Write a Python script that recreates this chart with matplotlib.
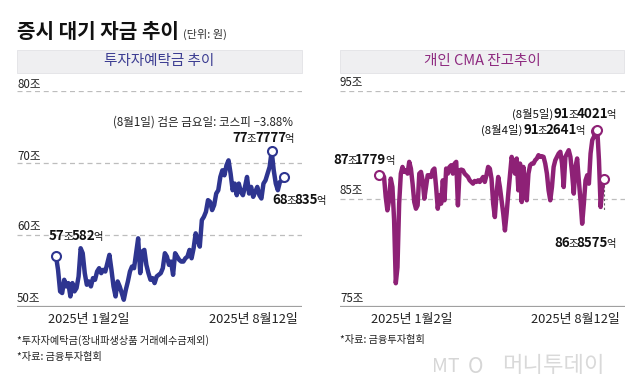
import matplotlib
matplotlib.use('Agg')
import matplotlib.pyplot as plt
from matplotlib.patches import Rectangle
from matplotlib.offsetbox import TextArea, HPacker, AnnotationBbox

plt.rcParams['font.family'] = ['Noto Sans CJK KR', 'DejaVu Sans']

# 투자자예탁금 (조원), 2025-01-02 .. 2025-08-12
deposit = [
    57.06, 55.16, 52.17, 51.94, 53.78, 52.86, 53.32, 51.47, 53.32, 52.17,
    52.63, 54.24, 58.16, 57.47, 54.70, 53.09, 53.55, 52.86, 54.01, 53.78,
    54.93, 55.39, 54.70, 55.16, 54.93, 56.08, 57.24, 55.16, 52.86, 51.47,
    53.55, 52.86, 51.94, 51.01, 52.40, 53.55, 54.93, 55.62, 55.39, 57.47,
    59.54, 54.70, 57.70, 57.93, 55.85, 54.70, 53.78, 54.01, 53.32, 54.24,
    54.47, 54.70, 55.39, 57.47, 57.00, 55.85, 56.31, 54.47, 57.47, 57.00,
    56.54, 56.31, 56.31, 56.77, 57.00, 57.93, 56.77, 58.16, 60.23, 59.31,
    58.39, 62.07, 62.53, 63.23, 64.84, 64.61, 63.46, 64.15, 65.76, 66.22,
    68.06, 68.99, 68.29, 69.68, 70.37, 68.53, 66.22, 67.14, 65.53, 67.14,
    65.99, 65.53, 66.68, 68.06, 65.76, 66.68, 65.30, 65.99, 66.68, 65.53,
    65.07, 67.14, 67.60, 68.53, 69.45, 71.66, 68.99, 67.14, 66.22, 67.37,
    67.60, 68.08,
]

# 개인 CMA 잔고 (조원)
cma = [
    87.18, 87.04, 87.35, 87.04, 85.19, 83.95, 84.88, 86.89, 86.11, 83.02,
    77.20, 78.68, 84.57, 87.35, 87.97, 87.51, 87.66, 87.35, 88.44, 87.82,
    86.42, 84.72, 84.10, 84.41, 87.35, 87.51, 86.73, 85.03, 86.11, 87.20,
    87.20, 87.04, 87.66, 87.82, 86.11, 84.10, 85.34, 84.57, 86.73, 84.88,
    87.82, 87.35, 87.97, 88.13, 87.35, 88.28, 88.44, 84.41, 87.66, 87.72,
    87.66, 87.35, 87.20, 87.04, 86.73, 86.58, 86.42, 86.67, 86.58, 86.73,
    86.58, 86.80, 87.04, 86.58, 87.20, 87.97, 87.82, 86.89, 84.57, 83.33,
    85.50, 87.04, 86.11, 84.88, 83.64, 82.09, 83.64, 85.50, 87.20, 88.90,
    88.28, 87.35, 88.75, 85.80, 88.28, 84.72, 87.97, 86.11, 84.88, 87.35,
    88.13, 88.28, 88.28, 88.59, 88.75, 89.06, 88.90, 88.96, 88.90, 88.28,
    87.35, 85.80, 84.88, 86.11, 87.97, 88.59, 88.90, 89.21, 89.37, 88.28,
    86.11, 88.90, 89.21, 89.52, 88.90, 87.35, 85.50, 87.97, 88.75, 86.73,
    84.88, 82.71, 84.57, 86.73, 87.20, 86.42, 89.21, 90.45, 90.76, 91.26,
    91.40, 88.59, 84.26, 86.11, 86.86,
]

left_ticks = [50, 60, 70, 80]
right_ticks = [75, 85, 95]
date_labels = ['2025년 1월2일', '2025년 8월12일']

NAVY = '#2e3590'
PLUM = '#8e2176'
W, H = 640, 387

fig = plt.figure(figsize=(6.4, 3.87), dpi=100)


def fx(px):
    return px / W


def fy(py):
    # py measured from the top of the picture
    return 1 - py / H


def make_axes(x0, x1, y_top, y_bot, data_x0, data_x1, n):
    ax = fig.add_axes([fx(x0), fy(y_bot), fx(x1 - x0), fy(y_top) - fy(y_bot)])
    s = (data_x1 - data_x0) / (n - 1)
    ax.set_xlim(-(data_x0 - x0) / s, (n - 1) + (x1 - data_x1) / s)
    ax.axis('off')
    return ax


def panel(ax, values, ticks, color, marks):
    lo, hi = ticks[0], ticks[-1]
    ax.set_ylim(lo, hi)
    for t in ticks[1:]:
        ax.axhline(t, color='#bdbdbd', lw=0.9, ls=(0, (4, 3)), zorder=1)
    ax.axhline(lo, color='#a0a0a0', lw=1.6, zorder=1)
    ax.plot(range(len(values)), values, color=color, lw=3.2,
            solid_joinstyle='round', clip_on=False, zorder=3)
    ax.scatter(marks, [values[i] for i in marks], s=42, facecolor='white',
               edgecolor=color, linewidth=1.5, clip_on=False, zorder=4)


def text(x, y, s, **kw):
    kw.setdefault('fontsize', 8.3)
    kw.setdefault('color', '#222222')
    kw.setdefault('va', 'center')
    fig.text(fx(x), fy(y), s, **kw)


def value_label(ax, pieces, x, y, align=(0.5, 0.5)):
    areas = [TextArea(t, textprops=dict(fontsize=sz, fontweight=wt,
                                        color='#111111'))
             for t, wt, sz in pieces]
    box = HPacker(children=areas, align='baseline', pad=0, sep=-1)
    ab = AnnotationBbox(box, (x, H - y), xycoords='figure pixels',
                        box_alignment=align, frameon=False, pad=0,
                        annotation_clip=False)
    ax.add_artist(ab)


def amount(jo, eok, pre=None):
    p = []
    if pre:
        p.append((pre, 'normal', 8.2))
    p += [(jo, 'bold', 9.6), ('조', 'normal', 7.4),
          (eok, 'bold', 9.6), ('억', 'normal', 7.4)]
    return p


# header
text(17, 32, '증시 대기 자금 추이', fontsize=14.5, fontweight='bold',
     color='#111111')
text(183, 34, '(단위: 원)', fontsize=8, color='#333333')

for x0, x1, label, col in [(17, 302, '투자자예탁금 추이', '#3c3d92'),
                           (340, 624, '개인 CMA 잔고추이', '#8e2a80')]:
    fig.add_artist(Rectangle((fx(x0), fy(73)), fx(x1 - x0), fy(50) - fy(73),
                             transform=fig.transFigure, facecolor='#efeff1',
                             edgecolor='#e2e2e6', lw=0.6))
    text((x0 + x1) / 2, 61.5, label, fontsize=10.5, color=col, ha='center')

# left panel
n_l = len(deposit)
axl = make_axes(17, 302, 91, 307, 56, 284, n_l)
peak_l = max(range(n_l), key=lambda i: deposit[i])
panel(axl, deposit, left_ticks, NAVY, [0, peak_l, n_l - 1])
for t, py in zip(left_ticks, [298, 227, 156, 84]):
    text(17, py, f'{t}조')

text(293, 122, '(8월1일) 검은 금요일: 코스피 −3.88%', fontsize=8.3,
     ha='right')
value_label(axl, amount('77', '7777'), 294, 138, (1, 0.5))
value_label(axl, amount('57', '582'), 49, 236, (0, 0.5))
value_label(axl, amount('68', '835'), 272, 200, (0, 0.5))

# right panel
n_r = len(cma)
axr = make_axes(340, 625, 91, 307, 379, 604, n_r)
peak_r = max(range(n_r), key=lambda i: cma[i])
panel(axr, cma, right_ticks, PLUM, [0, peak_r - 1, peak_r, n_r - 1])
axr.plot([n_r - 1, n_r - 1], [cma[-1] - 0.55, 83.9], color='#666666',
         lw=0.8, ls=(0, (2, 2)), clip_on=False, zorder=2)
for t, py in zip(right_ticks, [299, 190, 82]):
    text(340, py, f'{t}조')

value_label(axr, amount('87', '1779'), 333, 160, (0, 0.5))
value_label(axr, amount('91', '4021', '(8월5일) '), 616, 114, (1, 0.5))
value_label(axr, amount('91', '2641', '(8월4일) '), 585, 130, (1, 0.5))
value_label(axr, amount('86', '8575'), 585, 243, (0.5, 0.5))

# date labels
for cx, s in [(89, date_labels[0]), (253, date_labels[1]),
              (412, date_labels[0]), (575, date_labels[1])]:
    text(cx, 320, s, fontsize=9.3, ha='center', color='#222222')

# footnotes
text(17, 340, '*투자자예탁금(장내파생상품 거래예수금제외)', fontsize=7.3)
text(17, 357, '*자료: 금융투자협회', fontsize=7.3)
text(340, 340, '*자료: 금융투자협회', fontsize=7.3)

# watermark
text(432, 367, 'MT', fontsize=14, fontstyle='italic', color='#d6d6d6')
text(468, 367, 'O', fontsize=15, fontstyle='italic', color='#d6d6d6')
text(502, 366, '머니투데이', fontsize=16, color='#d9d9d9')

fig.savefig('out.png', dpi=100, facecolor='white')
